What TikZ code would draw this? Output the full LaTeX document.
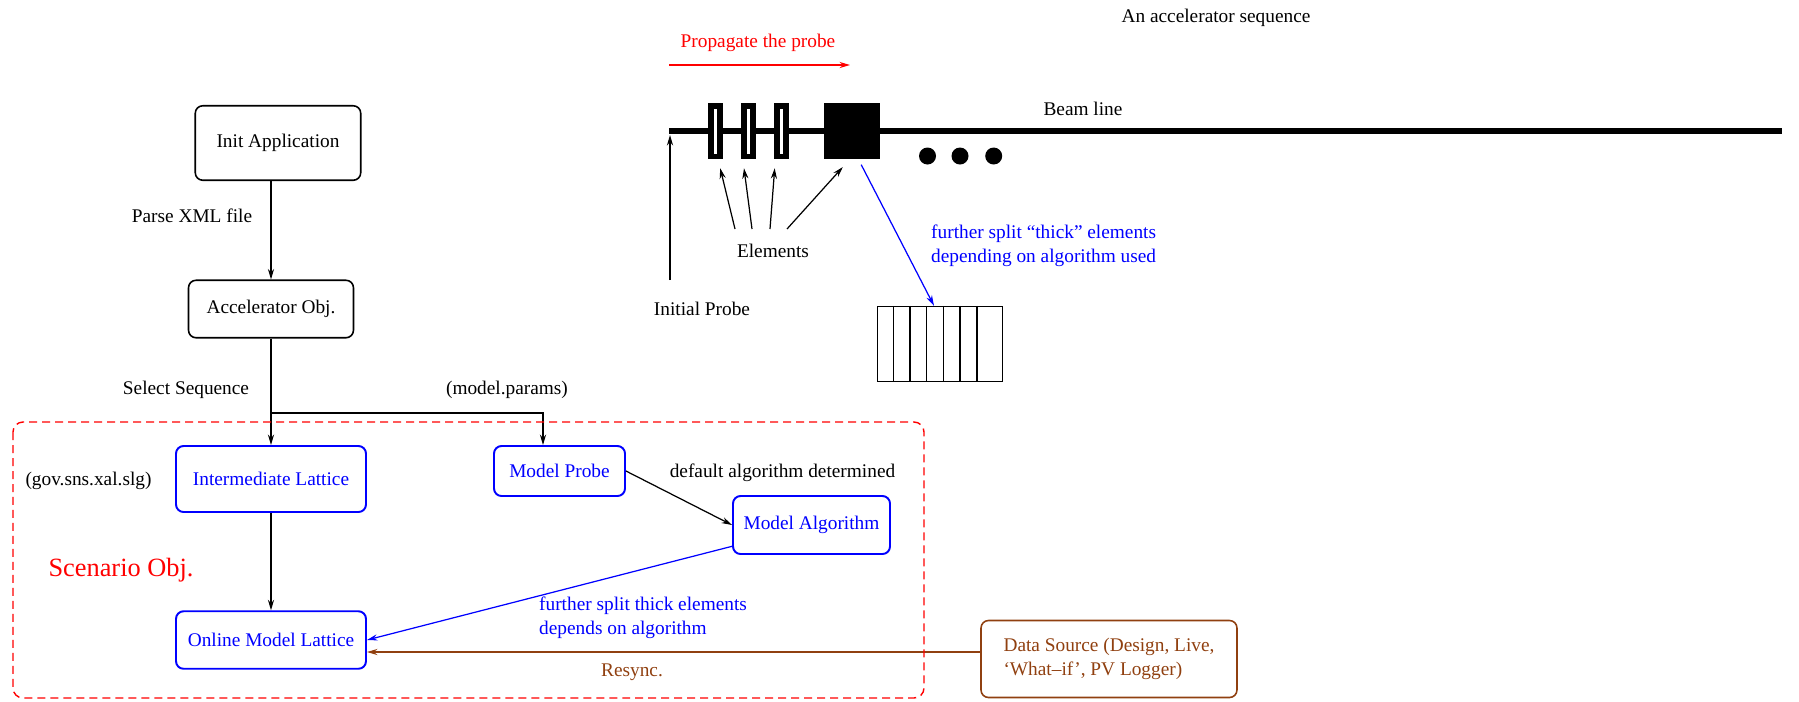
\documentclass[tikz,border=0pt]{standalone}
\usepackage{fontspec}
\setmainfont{Liberation Serif}
\usetikzlibrary{arrows.meta,calc}
\definecolor{figbrown}{RGB}{144,64,16}
\begin{document}
\begin{tikzpicture}[x=0.02cm,y=-0.02cm,font=\fontsize{11}{13.6}\selectfont]
  \tikzstyle{box}=[draw,rounded corners=0.15cm,line width=0.9pt,inner sep=2pt]
  \tikzstyle{bluebox}=[box,draw=blue,text=blue,line width=1.1pt]
  \tikzstyle{arr}=[-{Stealth[length=6pt,width=3.5pt,inset=2pt]},line width=0.7pt]
  \tikzstyle{slit}=[draw,fill=white,line width=0.115cm,minimum width=0.18cm,minimum height=1.015cm,inner sep=0]
  \useasboundingbox (0,0) rectangle (1799,701);
  \node (seq) at (1216,18) {An accelerator sequence};
  \node[red] (prop) at (758,43) {Propagate the probe};
  \coordinate (pa) at (669,65);
  \coordinate (pb) at (850,65);
  \draw[arr,red] (pa) -- (pb);
  \coordinate (bl0) at (669,131);
  \coordinate (bl1) at (1782,131);
  \draw[line width=0.134cm] (bl0) -- (bl1);
  \node (beam) at (1083,109) {Beam line};
  \foreach \n/\x in {el1/715.2,el2/748.5,el3/781.7}
    \node[slit] (\n) at (\x,131) {};
  \node[fill,minimum width=1.128cm,minimum height=1.132cm,inner sep=0] (block) at (852.2,131) {};
  \foreach \x in {927.5,960,993.7}
    \fill (\x,156) circle (0.17cm);
  \node (elab) at (773,251) {Elements};
  \draw[arr] ($(elab.north)+(-38,-9)$) -- ($(el1.south)+(5,9)$);
  \draw[arr] ($(elab.north)+(-21,-9)$) -- ($(el2.south)+(-4.5,9)$);
  \draw[arr] ($(elab.north)+(-3,-9)$) -- ($(el3.south)+(-7,9)$);
  \draw[arr] ($(elab.north)+(14,-9)$) -- ($(block.south)+(-9.4,7.4)$);
  \node (iprobe) at (702,309) {Initial Probe};
  \draw[arr] ($(iprobe.north)+(-32,-16)$) -- ($(bl0)+(1,4)$);
  \node[draw,line width=0.8pt,minimum width=2.508cm,minimum height=1.5cm,inner sep=0] (split) at (940,344) {};
  \foreach \i in {1,...,6}
    \draw[line width=0.8pt] ($(split.north west)+(16.7*\i,0)$) -- ($(split.south west)+(16.7*\i,0)$);
  \draw[arr,blue] ($(block.south)+(9,5)$) -- ($(split.north)+(-6,0)$);
  \node[blue,align=left,anchor=west] (thick) at (925,246) {further split ``thick'' elements\\depending on algorithm used};
  \node[box,minimum width=3.31cm,minimum height=1.49cm] (init) at (278,143) {Init Application};
  \node[box,minimum width=3.3cm,minimum height=1.15cm] (accel) at (271,309) {Accelerator Obj.};
  \draw[arr] (init.south -| accel.north) -- (accel.north);
  \node (parse) at (192,216) {Parse XML file};
  \node[bluebox,minimum width=3.8cm,minimum height=1.32cm] (inter) at (271,479) {Intermediate Lattice};
  \node[bluebox,minimum width=2.62cm,minimum height=1cm] (probe) at (559.5,471) {Model Probe};
  \node[bluebox,minimum width=3.14cm,minimum height=1.16cm] (algo) at (811.5,525) {Model Algorithm};
  \node[bluebox,minimum width=3.8cm,minimum height=1.15cm] (online) at (271,640) {Online Model Lattice};
  \node[box,draw=figbrown,text=figbrown,minimum width=5.12cm,minimum height=1.54cm,align=left] (source) at (1109,659) {Data Source (Design, Live,\\`What--if', PV Logger)};
  \coordinate (fork) at (271,413);
  \draw[arr] (accel.south) -- (inter.north);
  \draw[arr] (fork) -| ($(probe.north)+(-16.5,0)$);
  \node (select) at (186,390) {Select Sequence};
  \node (params) at (507,390) {(model.params)};
  \node (pkg) at (88.5,481) {(gov.sns.xal.slg)};
  \draw[arr] (probe.east) -- (algo.west);
  \node (default) at (782.5,473) {default algorithm determined};
  \draw[arr] (inter.south) -- (online.north);
  \draw[arr,blue] (algo.195) -- (online.east);
  \node[blue,align=left,anchor=west] (further) at (533,618) {further split thick elements\\depends on algorithm};
  \coordinate (rs) at (0,652);
  \draw[arr,figbrown] (source.west |- rs) -- (online.east |- rs);
  \node[figbrown] (resync) at (632,672) {Resync.};
  \node[red,font=\fontsize{15}{18}\selectfont] (scen) at (121,570) {Scenario Obj.};
  \draw[red,dash pattern=on 0.16cm off 0.1cm,rounded corners=0.2cm,line width=0.8pt] (13,422) rectangle (924,698);
\end{tikzpicture}
\end{document}
